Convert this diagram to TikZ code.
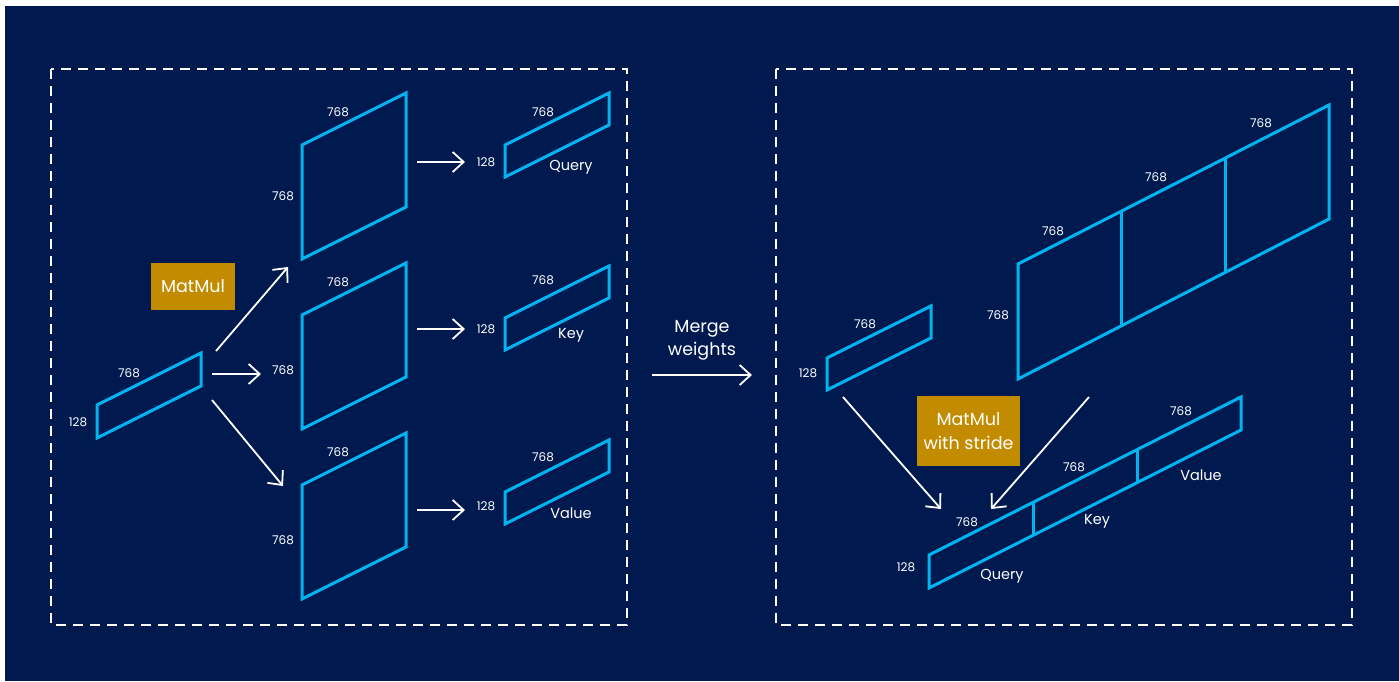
\documentclass[tikz,border=0pt]{standalone}
\usepackage{fontspec}
\setmainfont{Poppins}
\usetikzlibrary{arrows.meta}
\definecolor{navy}{HTML}{001A50}
\definecolor{cy}{HTML}{00B4F0}
\definecolor{gold}{HTML}{C38B00}
\begin{document}
\begin{tikzpicture}[x=1pt,y=-1pt,
  cyl/.style={draw=cy,line width=3pt,line join=miter},
  arr/.style={draw=white,line width=1.8pt,-{Straight Barb[length=11pt,width=20pt]}},
  dbox/.style={draw=white,line width=2pt,dash pattern=on 10pt off 7pt},
  num/.style={text=white,font=\fontsize{12}{14}\selectfont,inner sep=0pt},
  lab/.style={text=white,font=\fontsize{14.5}{16}\selectfont,inner sep=0pt},
  big/.style={text=white,font=\fontsize{17.5}{23}\selectfont,inner sep=0pt,align=center},
  goldbox/.style={fill=gold,text=white,font=\fontsize{17.5}{24}\selectfont,inner sep=0pt,align=center}]
\useasboundingbox (0,0) rectangle (1399,681);
\fill[white] (0,0) rectangle (1399,681);
\fill[navy] (5,6) rectangle (1399,681);
% dashed frames
\draw[dbox] (51,69) rectangle (627,625);
\draw[dbox] (776,69) rectangle (1352,625);
% ===== left panel =====
% input
\draw[cyl] (97,405) -- ++(104,-52) -- ++(0,33) -- ++(-104,52) -- cycle;
\node[num] (in768) at (129,373) {768};
\node[num] (in128) at (78,422) {128};
% weight matrices
\foreach \dy/\nm in {0/q,170/k,340/v}{
  \draw[cyl] (302,145+\dy) -- ++(104,-52) -- ++(0,114) -- ++(-104,52) -- cycle;
  \node[num] (w\nm top) at (338,112+\dy) {768};
}
\node[num] (wqleft) at (283,196) {768};
\node[num] (wkleft) at (283,370) {768};
\node[num] (wvleft) at (283,540) {768};
% MatMul box
\node[goldbox,minimum width=84pt,minimum height=47pt] (mm1) at (193,286.5) {MatMul};
% arrows from input
\coordinate (a1s) at (216,351); \coordinate (a1e) at (288,267);
\coordinate (a2s) at (212,374); \coordinate (a2e) at (261,374);
\coordinate (a3s) at (212,400); \coordinate (a3e) at (283,486);
\draw[arr] (a1s) -- (a1e);
\draw[arr] (a2s) -- (a2e);
\draw[arr] (a3s) -- (a3e);
% arrows to outputs
\foreach \yy/\nm in {162/q,329/k,510/v}{
  \coordinate (o\nm s) at (417,\yy); \coordinate (o\nm e) at (465,\yy);
  \draw[arr] (o\nm s) -- (o\nm e);
}
% outputs
\draw[cyl] (505,145) -- ++(104,-52) -- ++(0,32) -- ++(-104,52) -- cycle;
\draw[cyl] (505,318) -- ++(104,-52) -- ++(0,32) -- ++(-104,52) -- cycle;
\draw[cyl] (505,492) -- ++(104,-52) -- ++(0,32) -- ++(-104,52) -- cycle;
\node[num] (oq768) at (543,112) {768};
\node[num] (oq128) at (486,162) {128};
\node[lab] (oqlab) at (571,167) {Query};
\node[num] (ok768) at (543,280) {768};
\node[num] (ok128) at (486,329) {128};
\node[lab] (oklab) at (571,335) {Key};
\node[num] (ov768) at (543,457) {768};
\node[num] (ov128) at (486,506) {128};
\node[lab] (ovlab) at (571,513) {Value};
% ===== middle =====
\node[big] (merge) at (702,340) {Merge\\weights};
\coordinate (ms) at (652,375); \coordinate (me) at (752,375);
\draw[arr] (ms) -- (me);
% ===== right panel =====
\draw[cyl] (827,358) -- ++(104,-52) -- ++(0,32) -- ++(-104,52) -- cycle;
\node[num] (ri768) at (865,324) {768};
\node[num] (ri128) at (808,373) {128};
% merged weights
\draw[cyl] (1018,264) -- (1329,105) -- (1329,219) -- (1018,379) -- cycle;
\draw[cyl] (1121,211.5) -- (1121,326);
\draw[cyl] (1225,158) -- (1225,272.5);
\node[num] (rw768l) at (998,315) {768};
\node[num] (rw768a) at (1053,231) {768};
\node[num] (rw768b) at (1156,177) {768};
\node[num] (rw768c) at (1261,123) {768};
% output strip
\draw[cyl] (929,555) -- (1241,397) -- (1241,430) -- (929,588) -- cycle;
\draw[cyl] (1033,502.5) -- (1033,535.5);
\draw[cyl] (1137,450) -- (1137,483);
\node[num] (ro128) at (906,567) {128};
\node[num] (ro768a) at (967,522) {768};
\node[num] (ro768b) at (1074,467) {768};
\node[num] (ro768c) at (1181,411) {768};
\node[lab] (roq) at (1002,576) {Query};
\node[lab] (rok) at (1097,521) {Key};
\node[lab] (rov) at (1201,475) {Value};
% MatMul with stride
\node[goldbox,minimum width=103pt,minimum height=70pt] (mm2) at (968.5,431) {MatMul\\with stride};
\coordinate (b1s) at (843,397); \coordinate (b1e) at (941,509);
\coordinate (b2s) at (1089,397); \coordinate (b2e) at (991,509);
\draw[arr] (b1s) -- (b1e);
\draw[arr] (b2s) -- (b2e);
\end{tikzpicture}
\end{document}
